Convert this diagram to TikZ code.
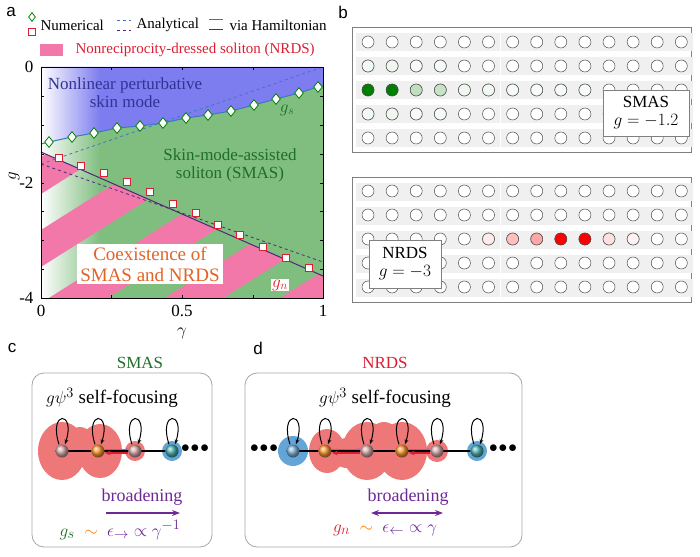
\documentclass[tikz,border=0pt]{standalone}
\usepackage{fontspec}
\setmainfont{Liberation Serif}
\newfontfamily\lsans{Liberation Sans}
\usetikzlibrary{fadings,arrows.meta,shapes.geometric}
\definecolor{pgreen}{RGB}{128,190,128}
\definecolor{pblue}{RGB}{125,125,240}
\definecolor{ppink}{RGB}{242,120,170}
\definecolor{lblue}{RGB}{60,120,190}
\definecolor{lpurp}{RGB}{80,40,120}
\definecolor{dgreen}{RGB}{30,110,40}
\definecolor{dblue}{RGB}{50,50,150}
\definecolor{tred}{RGB}{220,30,50}
\definecolor{torange}{RGB}{225,100,40}
\definecolor{bpurp}{RGB}{110,40,150}
\definecolor{blobred}{RGB}{238,120,120}
\definecolor{blobblue}{RGB}{100,165,215}
\tikzset{
 lbl/.style={font=\lsans\fontsize{17}{17}\selectfont},
 diam/.style={diamond,draw=green!50!black,fill=white,inner sep=0pt,minimum width=9pt,minimum height=11pt,line width=0.8pt},
 sq/.style={rectangle,draw=tred,fill=white,inner sep=0pt,minimum size=7pt,line width=0.8pt},
 site/.style={circle,draw=black!70,fill=white,inner sep=0pt,minimum size=12pt,line width=0.5pt},
 tt/.style={font=\fontsize{15}{16}\selectfont},
 big/.style={font=\fontsize{17}{18}\selectfont},
 ball/.style={circle,inner sep=0pt,minimum size=13pt,ball color=#1},
 loop/.style={-{Stealth[length=5pt]},line width=1pt},
}
\begin{document}
\begin{tikzpicture}[x=1pt,y=-1pt]
\useasboundingbox (0,0) rectangle (700,556);
% ---------------- panel a
\node[lbl] (la) at (11,12) {a};
\fill[pgreen] (41,67) rectangle (323,298);
\fill[pblue] (41,67)--(323,67)--(323,85)--(318,87)--(299,93)--(276,99)--(254,105)--(231,111)--(208,115)--(186,118)--(163,123)--(140,126)--(117,128)--(94,133)--(72,137)--(49,142)--(41,144)--cycle;
\fill[white,path fading=east] (41,67) rectangle (100,298);
\begin{scope}
\clip (41,152)--(323,276)--(323,298)--(41,298)--cycle;
\foreach \k in {-3,...,6}{
 \fill[ppink] (41,{157+73*\k})--(323,{157+73*\k-178})--(323,{157+73*\k-178+37})--(41,{157+73*\k+37})--cycle;}
\end{scope}
\draw[lblue,dashed,line width=0.8pt] (41,164)--(323,67);
\draw[lpurp,dashed,line width=0.8pt] (41,164)--(323,262);
\draw[lblue,line width=1pt] (41,144)--(49,142)--(72,137)--(94,133)--(117,128)--(140,126)--(163,123)--(186,118)--(208,115)--(231,111)--(254,105)--(276,99)--(299,93)--(318,87)--(323,85);
\draw[lpurp,line width=1pt] (41,152)--(323,276);
\foreach \x/\y [count=\i] in {49/142,72/137,94/133,117/128,140/126,163/123,186/118,208/115,231/111,254/105,276/99,299/93,318/87}
 \node[diam] (d\i) at (\x,\y) {};
\foreach \x/\y [count=\i] in {59/158,81/166,104/173,127/182,150/192,173/204,196/213,218/225,240/235,263/247,286/258,309/268}
 \node[sq] (s\i) at (\x,\y) {};
\draw[line width=0.8pt] (41,67) rectangle (323,298);
\foreach \y in {67,96,125,154,183,211,240,269,298}{\draw (41,\y)--(44,\y); \draw (323,\y)--(320,\y);}
\foreach \x in {41,111,182,253,323}{\draw (\x,298)--(\x,295); \draw (\x,67)--(\x,70);}
\node[big,anchor=east] (y0) at (37,67) {0};
\node[big,anchor=east] (y2) at (37,183) {-2};
\node[big,anchor=east] (y4) at (37,298) {-4};
\node[big] (x0) at (41,311) {0};
\node[big] (x5) at (182,311) {0.5};
\node[big] (x1) at (323,311) {1};
\node[big,rotate=90] (yl) at (14,176) {$g$};
\node[big] (xl) at (182,333) {$\gamma$};
\node[dblue,big,align=center] (t1) at (125,93) {Nonlinear perturbative\\skin mode};
\node[dgreen,big,align=center] (t2) at (230,165) {Skin-mode-assisted\\soliton (SMAS)};
\node[torange,align=center,fill=white,inner sep=3pt,font=\fontsize{19}{21}\selectfont] (t3) at (150,264) {Coexistence of\\SMAS and NRDS};
\node[dgreen,big] (gs) at (287,110) {$g_s$};
\node[tred,big,fill=white,inner sep=1pt] (gn) at (280,285) {$g_n$};
% legend
\node[diam,minimum width=7pt,minimum height=9pt] (ld) at (32,17) {};
\node[sq] (ls) at (32,32) {};
\node[tt,anchor=west] (l1) at (37,25) {Numerical};
\coordinate (a1) at (117,20); \coordinate (a2) at (131,20);
\coordinate (a3) at (117,30); \coordinate (a4) at (131,30);
\draw[lblue,dashed,line width=0.8pt] (a1)--(a2);
\draw[lpurp,dashed,line width=0.8pt] (a3)--(a4);
\node[tt,anchor=west] (l2) at (133,25) {Analytical};
\coordinate (b1) at (209,20); \coordinate (b2) at (223,20);
\coordinate (b3) at (209,30); \coordinate (b4) at (223,30);
\draw[lblue,line width=1pt] (b1)--(b2);
\draw[lpurp,line width=1pt] (b3)--(b4);
\node[tt,anchor=west] (l3) at (226,25) {via Hamiltonian};
\fill[ppink] (40,44) rectangle (63,56);
\node[tt,anchor=west,tred] (l4) at (72,50) {Nonreciprocity-dressed soliton (NRDS)};
% ---------------- panel b
\node[lbl] (lb) at (343,12) {b};
\foreach \top/\name in {27/T,177/B}{
 \draw[black!50,line width=0.8pt,fill=white] (352,\top) rectangle (691,{\top+125});
 \foreach \r in {0,...,4}{\foreach \p in {0,...,6}{
  \fill[black!6] ({368+48.2*\p-12},{\top+15+24*\r-9}) rectangle ({368+48.2*\p+36},{\top+15+24*\r+9});}}
}
\foreach \r in {0,...,4}{\foreach \c in {0,...,13}{
 \node[site] (t\r-\c) at ({368+24.1*\c},{42+24*\r}) {};}}
\foreach \c/\v in {0/100,1/100,2/25,3/22,4/6,5/5,6/3,7/3,8/3,9/3}
 \node[site,fill=green!50!black!\v!white] (tg\c) at ({368+24.1*\c},90) {};
\foreach \c/\v in {0/5,1/6,2/3,3/3}{
 \node[site,fill=green!50!black!\v!white] (tu\c) at ({368+24.1*\c},66) {};
 \node[site,fill=green!50!black!\v!white] (tl\c) at ({368+24.1*\c},114) {};}
\node[draw=black!50,fill=white,align=center,font=\fontsize{17}{18}\selectfont,minimum width=86pt,minimum height=46pt,inner sep=1pt] (smas) at (646,113) {SMAS\\$g=-1.2$};
\foreach \r in {0,...,4}{\foreach \c in {0,...,13}{
 \node[site] (b\r-\c) at ({368+24.1*\c},{191+24*\r}) {};}}
\foreach \c/\v in {5/8,6/25,7/35,8/100,9/100,10/12,11/5}
 \node[site,fill=red!\v!white] (bg\c) at ({368+24.1*\c},239) {};
\node[draw=black!50,fill=white,align=center,font=\fontsize{17}{18}\selectfont,minimum width=72pt,minimum height=48pt,inner sep=1pt] (nrds) at (405,264) {NRDS\\$g=-3$};
% ---------------- panel c
\node[lbl] (lc) at (12,348) {c};
\node[big,dgreen] (hc) at (140,363) {SMAS};
\draw[black!35,rounded corners=12pt,line width=0.8pt] (32,373) rectangle (212,547);
\node[font=\fontsize{19}{20}\selectfont] (fc) at (112,398) {$g\psi^3$ self-focusing};
\fill[blobred] (62,451) ellipse (24 and 29);
\fill[blobred] (100,451) ellipse (22 and 27);
\fill[blobred] (80,445) ellipse (14 and 18);
\fill[blobred] (135,451) circle (10);
\fill[blobblue] (172,451) circle (10);
\draw[line width=1.5pt] (62,451)--(172,451);
\node[ball=pink!70!gray] (c1) at (62,451) {};
\node[ball=orange!80] (c2) at (98,451) {};
\node[ball=pink!70!gray] (c3) at (135,451) {};
\node[ball=gray!60!cyan] (c4) at (172,451) {};
\foreach \n in {c1,c2,c3,c4}
 \draw[loop] ([xshift=-3pt]\n.north) .. controls +(-11,-34) and +(11,-34) .. ([xshift=3pt]\n.north);
\draw[tred,line width=1.5pt,-{Stealth[length=6pt]}] ([yshift=-2pt]c3.west)--([yshift=-2pt]c2.east);
\draw[bpurp!70,line width=0.6pt,-{Stealth[length=3pt]}] ([yshift=2pt]c2.east)--([yshift=2pt]c3.west);
\node[font=\fontsize{18}{18}\selectfont] (dc) at (195,449) {$\bullet\!\bullet\!\bullet$};
\node[bpurp,font=\fontsize{18}{19}\selectfont] (brc) at (142,497) {broadening};
\coordinate (ca) at (106,513); \coordinate (cb) at (180,513);
\draw[bpurp,line width=1.5pt,-{Stealth[length=8pt]}] (ca)--(cb);
\node[font=\fontsize{19}{20}\selectfont] (ec) at (120,530) {$\color{dgreen}g_s$\ \ $\color{orange}\sim$\ \ $\color{bpurp}\epsilon_{\rightarrow}\propto\gamma^{-1}$};
% ---------------- panel d
\node[lbl] (ld2) at (258,348) {d};
\node[big,tred] (hd) at (385,363) {NRDS};
\draw[black!35,rounded corners=12pt,line width=0.8pt] (245,373) rectangle (522,547);
\node[font=\fontsize{19}{20}\selectfont] (fd) at (385,398) {$g\psi^3$ self-focusing};
\fill[blobblue] (293,451) circle (15);
\fill[blobred] (327,451) ellipse (18 and 22);
\fill[blobred] (367,451) ellipse (25 and 29);
\fill[blobred] (402,451) ellipse (25 and 29);
\fill[blobred] (384,440) ellipse (16 and 18);
\fill[blobred] (347,453) ellipse (16 and 15);
\fill[blobred] (437,451) circle (11);
\fill[blobblue] (477,451) circle (10);
\draw[line width=1.5pt] (293,451)--(477,451);
\node[ball=blobblue!80] (e1) at (293,451) {};
\node[ball=orange!80] (e2) at (325,451) {};
\node[ball=pink!70!gray] (e3) at (367,451) {};
\node[ball=orange!80] (e4) at (402,451) {};
\node[ball=pink!70!gray] (e5) at (437,451) {};
\node[ball=gray!60!cyan] (e6) at (477,451) {};
\foreach \n in {e1,e2,e3,e4,e5,e6}
 \draw[loop] ([xshift=-3pt]\n.north) .. controls +(-11,-34) and +(11,-34) .. ([xshift=3pt]\n.north);
\draw[tred,line width=1.5pt,-{Stealth[length=6pt]}] ([yshift=-2pt]e3.west)--([yshift=-2pt]e2.east);
\draw[bpurp!70,line width=0.6pt,-{Stealth[length=3pt]}] ([yshift=2pt]e2.east)--([yshift=2pt]e3.west);
\draw[tred,line width=1.5pt,-{Stealth[length=6pt]}] ([yshift=-2pt]e5.west)--([yshift=-2pt]e4.east);
\draw[bpurp!70,line width=0.6pt,-{Stealth[length=3pt]}] ([yshift=2pt]e4.east)--([yshift=2pt]e5.west);
\node[font=\fontsize{18}{18}\selectfont] (dd1) at (264,449) {$\bullet\!\bullet\!\bullet$};
\node[font=\fontsize{18}{18}\selectfont] (dd2) at (503,449) {$\bullet\!\bullet\!\bullet$};
\node[bpurp,font=\fontsize{18}{19}\selectfont] (brd) at (408,497) {broadening};
\coordinate (da) at (371,513); \coordinate (db) at (443,513);
\draw[bpurp,line width=1.5pt,{Stealth[length=8pt]}-{Stealth[length=8pt]}] (da)--(db);
\node[font=\fontsize{19}{20}\selectfont] (ed) at (385,530) {$\color{tred}g_n$\ \ $\color{orange}\sim$\ \ $\color{bpurp}\epsilon_{\leftarrow}\propto\gamma$};
\end{tikzpicture}
\end{document}
